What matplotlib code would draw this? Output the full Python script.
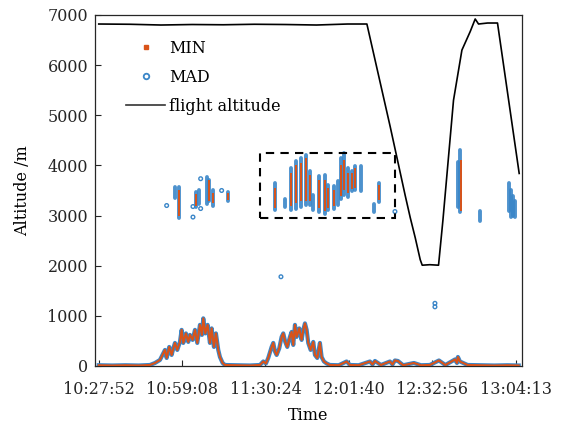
import matplotlib
matplotlib.use("Agg")
import matplotlib.pyplot as plt
from matplotlib.lines import Line2D
from matplotlib.patches import Rectangle

# ---------------- data (time in seconds since 10:27:52) ----------------
tick_labels = ["10:27:52", "10:59:08", "11:30:24", "12:01:40", "12:32:56", "13:04:13"]

flight_t = [0, 700, 1400, 2100, 2800, 3500, 4200, 4900, 5600, 6034, 6559, 6896, 7009,
            7121, 7234, 7279, 7450, 7646, 7745, 7983, 8172, 8359, 8471, 8546, 8750, 8973, 9461]
flight_alt = [6820, 6815, 6800, 6810, 6805, 6815, 6810, 6800, 6820, 6820, 4770, 3400, 2960,
              2560, 2120, 2010, 2020, 2010, 2910, 5300, 6300, 6670, 6920, 6820, 6840, 6840, 3840]

# lower (boundary-layer) detections
low_t = [0, 300, 600, 900, 1152, 1265, 1377, 1490, 1528, 1586, 1640, 1677, 1715, 1767, 1827,
         1865, 1902, 1962, 2014, 2052, 2112, 2165, 2217, 2277, 2322, 2352, 2397, 2450, 2502,
         2540, 2592, 2637, 2689, 2727, 2787, 2840, 3100, 3400, 3627, 3702, 3762, 3814, 3890,
         3927, 3965, 4003, 4061, 4115, 4152, 4197, 4242, 4302, 4340, 4377, 4415, 4453, 4512,
         4565, 4602, 4640, 4678, 4714, 4768, 4827, 4865, 4917, 4977, 5015, 5067, 5128, 5202,
         5400, 5578, 5652, 5850, 6035, 6102, 6160, 6215, 6350, 6552, 6610, 6665, 6732, 6850,
         7092, 7250, 7450, 7610, 7655, 7800, 8015, 8060, 8082, 8127, 8300, 8600, 8900, 9200, 9450]
low_alt = [15, 10, 15, 10, 20, 60, 120, 320, 160, 380, 220, 350, 460, 320, 480,
           720, 460, 650, 480, 620, 520, 720, 460, 820, 620, 950, 650, 820, 460,
           750, 380, 650, 320, 180, 60, 20, 15, 10, 20, 90, 50, 160, 380,
           460, 290, 220, 350, 580, 650, 480, 380, 580, 680, 420, 820, 580, 750,
           520, 720, 850, 720, 460, 320, 480, 220, 160, 460, 180, 90, 50, 20,
           15, 90, 20, 15, 70, 90, 30, 100, 20, 90, 30, 110, 100, 15,
           60, 15, 20, 90, 110, 20, 130, 60, 180, 90, 20, 15, 10, 15, 10]

# upper (cloud-layer) MAD detections: vertical streaks
mad_t = [1715, 1805, 2198, 2261, 2435, 2491, 2570, 2914,
         3965, 4190, 4336, 4448, 4561, 4673, 4752, 4820, 4966, 5090, 5157, 5292, 5382,
         5450, 5517, 5607, 5697, 5765, 5900, 6192, 6305,
         8082, 8127, 8577, 9241, 9286, 9331, 9376]
mad_lo = [3360, 2950, 3170, 3240, 3240, 3300, 3200, 3300,
          3110, 3180, 3110, 3140, 3180, 3210, 3210, 3110, 3080, 3040, 3110, 3140, 3210,
          3340, 3410, 3380, 3480, 3510, 3480, 3080, 3280,
          3170, 3070, 2900, 3100, 2970, 3000, 2980]
mad_hi = [3560, 3560, 3470, 3500, 3770, 3700, 3500, 3470,
          3640, 3340, 3940, 4080, 4140, 4200, 3880, 3410, 3780, 3810, 3610, 3580, 3680,
          4140, 4240, 3940, 3880, 3980, 3980, 3240, 3640,
          4070, 4300, 3100, 3650, 3500, 3400, 3300]

# isolated MAD points
mad_pt_t = [1528, 2120, 2120, 2293, 2293, 2765, 6665, 4100, 7565, 7565]
mad_pt_alt = [3200, 2970, 3180, 3735, 3140, 3500, 3080, 1780, 1180, 1250]

# MIN detections: vertical streaks
min_t = [1805, 2198, 2470, 2570, 2914,
         3965, 4336, 4448, 4561, 4673, 4752, 4966, 5090, 5157, 5292,
         5450, 5517, 5607, 5697, 5765, 6305, 8149]
min_lo = [3000, 3200, 3300, 3250, 3320,
          3150, 3200, 3250, 3300, 3300, 3300, 3150, 3100, 3150, 3200,
          3400, 3500, 3450, 3520, 3550, 3320, 3090]
min_hi = [3500, 3430, 3700, 3450, 3450,
          3550, 3850, 4000, 4050, 4150, 3800, 3700, 3700, 3550, 3500,
          4000, 4100, 3850, 3850, 3950, 3600, 4100]

# dashed box region (time span, altitude span)
box_t = [3627, 6665]
box_alt = [2950, 4250]

# ---------------- plotting ----------------
def to_sec(s):
    h, m, sec = (int(v) for v in s.split(":"))
    return h * 3600 + m * 60 + sec - (10 * 3600 + 27 * 60 + 52)

tick_pos = [to_sec(s) for s in tick_labels]

plt.rcParams["font.family"] = ["DejaVu Serif"]
plt.rcParams["font.size"] = 11.5

BLUE = "#3a86c8"
ORANGE = "#d95319"

fig = plt.figure(figsize=(5.63, 4.32), dpi=100)
ax = fig.add_axes([0.1687, 0.1528, 0.7583, 0.8125])

# lower layer
ax.plot(low_t, low_alt, color=BLUE, lw=3.0, solid_joinstyle="round", zorder=2)
ax.plot(low_t, low_alt, color=ORANGE, lw=1.5, solid_joinstyle="round", zorder=3)

# upper streaks
ax.vlines(mad_t, mad_lo, mad_hi, color=BLUE, lw=2.8, zorder=2, capstyle="round", alpha=0.9)
ax.scatter(mad_pt_t, mad_pt_alt, s=7, facecolors="none", edgecolors=BLUE, lw=1.0, zorder=2)
ax.vlines(min_t, min_lo, min_hi, color=ORANGE, lw=1.4, zorder=3)

# flight altitude
ax.plot(flight_t, flight_alt, color="black", lw=1.2, zorder=4)

# dashed box
ax.add_patch(Rectangle((box_t[0], box_alt[0]), box_t[1] - box_t[0], box_alt[1] - box_alt[0],
                       fill=False, ls=(0, (4, 3)), lw=1.5, ec="black", zorder=5))

ax.set_xlim(-85, 9522)
ax.set_ylim(0, 7000)
ax.set_xticks(tick_pos)
ax.set_xticklabels(tick_labels)
ax.set_yticks(range(0, 7001, 1000))
ax.tick_params(direction="in", length=4, width=0.8, colors="#262626")
ax.tick_params(axis="x", pad=11)
ax.tick_params(axis="y", pad=5)
for sp in ax.spines.values():
    sp.set_color("#262626")
    sp.set_linewidth(0.9)

ax.set_xlabel("Time", labelpad=6)
ax.set_ylabel("Altitude /m", labelpad=12)

handles = [
    Line2D([], [], ls="none", marker="s", ms=3.5, color=ORANGE),
    Line2D([], [], ls="none", marker="o", ms=4, mfc="none", mec=BLUE, mew=1.3),
    Line2D([], [], color="#333333", lw=1.2),
]
ax.legend(handles, ["MIN", "MAD", "flight altitude"], loc="upper left",
          bbox_to_anchor=(0.04, 0.97), frameon=False, handlelength=2.4,
          handletextpad=0.25, labelspacing=0.75, fontsize=11.5)

fig.savefig("out.png", dpi=100)
